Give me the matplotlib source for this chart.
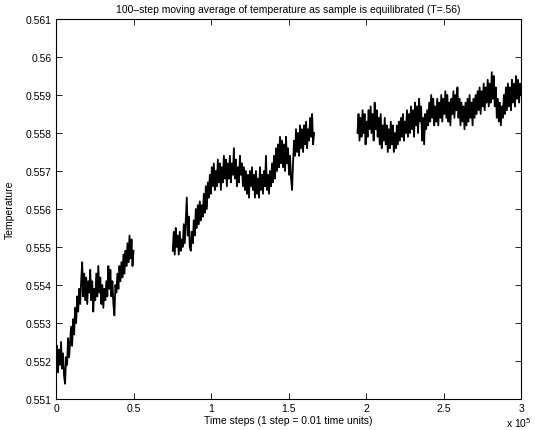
import matplotlib
matplotlib.use("Agg")
import matplotlib.pyplot as plt
import numpy as np

plt.rcParams['font.family'] = ['Liberation Sans', 'DejaVu Sans']

# three recorded runs: (first step, last step)
seg_steps = [(0, 50000), (75300, 166500), (194500, 300000)]

temp_run1 = [
    0.5520, 0.5524, 0.5517, 0.5523, 0.5519, 0.5525, 0.5518, 0.5522, 0.5516, 0.5514,
    0.5521, 0.5519, 0.5526, 0.5521, 0.5525, 0.5529, 0.5524, 0.5531, 0.5527, 0.5534,
    0.5530, 0.5537, 0.5533, 0.5539, 0.5535, 0.5541, 0.5546, 0.5537, 0.5543, 0.5536,
    0.5542, 0.5535, 0.5541, 0.5538, 0.5544, 0.5536, 0.5541, 0.5533, 0.5539, 0.5536,
    0.5543, 0.5537, 0.5545, 0.5538, 0.5542, 0.5535, 0.5540, 0.5534, 0.5539, 0.5536,
    0.5541, 0.5537, 0.5545, 0.5539, 0.5544, 0.5537, 0.5541, 0.5535, 0.5532, 0.5540,
    0.5538, 0.5543, 0.5539, 0.5545, 0.5541, 0.5546, 0.5542, 0.5548, 0.5543, 0.5549,
    0.5545, 0.5551, 0.5546, 0.5553, 0.5547, 0.5552, 0.5545, 0.5549,
]

temp_run2 = [
    0.5549, 0.5554, 0.5548, 0.5555, 0.5550, 0.5553, 0.5548, 0.5554, 0.5549, 0.5552,
    0.5550, 0.5556, 0.5551, 0.5557, 0.5563, 0.5553, 0.5558, 0.5550, 0.5549, 0.5554,
    0.5551, 0.5557, 0.5553, 0.5560, 0.5555, 0.5561, 0.5556, 0.5562, 0.5557, 0.5561,
    0.5558, 0.5564, 0.5559, 0.5566, 0.5560, 0.5567, 0.5563, 0.5569, 0.5564, 0.5571,
    0.5566, 0.5572, 0.5565, 0.5570, 0.5566, 0.5573, 0.5567, 0.5572, 0.5565, 0.5571,
    0.5567, 0.5574, 0.5568, 0.5573, 0.5566, 0.5572, 0.5568, 0.5574, 0.5567, 0.5572,
    0.5569, 0.5576, 0.5568, 0.5573, 0.5566, 0.5571, 0.5567, 0.5574, 0.5569, 0.5572,
    0.5566, 0.5571, 0.5565, 0.5570, 0.5564, 0.5569, 0.5563, 0.5570, 0.5566, 0.5571,
    0.5565, 0.5569, 0.5563, 0.5570, 0.5564, 0.5568, 0.5563, 0.5571, 0.5565, 0.5569,
    0.5564, 0.5570, 0.5566, 0.5574, 0.5565, 0.5569, 0.5564, 0.5570, 0.5566, 0.5572,
    0.5567, 0.5574, 0.5568, 0.5576, 0.5570, 0.5577, 0.5571, 0.5579, 0.5572, 0.5578,
    0.5571, 0.5577, 0.5570, 0.5579, 0.5572, 0.5576, 0.5569, 0.5574, 0.5568, 0.5565,
    0.5572, 0.5578, 0.5574, 0.5581, 0.5575, 0.5580, 0.5574, 0.5582, 0.5576, 0.5581,
    0.5575, 0.5582, 0.5577, 0.5583, 0.5576, 0.5581, 0.5578, 0.5584, 0.5579, 0.5585,
    0.5577, 0.5580,
]

temp_run3 = [
    0.5580, 0.5585, 0.5578, 0.5584, 0.5579, 0.5586, 0.5580, 0.5585, 0.5577, 0.5583,
    0.5579, 0.5586, 0.5581, 0.5587, 0.5580, 0.5585, 0.5578, 0.5588, 0.5581, 0.5586,
    0.5579, 0.5584, 0.5577, 0.5585, 0.5576, 0.5582, 0.5578, 0.5584, 0.5577, 0.5582,
    0.5575, 0.5581, 0.5576, 0.5583, 0.5577, 0.5582, 0.5575, 0.5580, 0.5576, 0.5582,
    0.5577, 0.5583, 0.5578, 0.5584, 0.5579, 0.5585, 0.5578, 0.5583, 0.5580, 0.5586,
    0.5579, 0.5585, 0.5580, 0.5587, 0.5581, 0.5586, 0.5579, 0.5588, 0.5582, 0.5587,
    0.5580, 0.5589, 0.5583, 0.5587, 0.5578, 0.5584, 0.5577, 0.5585, 0.5581, 0.5586,
    0.5582, 0.5588, 0.5583, 0.5590, 0.5584, 0.5589, 0.5582, 0.5587, 0.5583, 0.5589,
    0.5582, 0.5588, 0.5584, 0.5590, 0.5583, 0.5589, 0.5585, 0.5591, 0.5584, 0.5590,
    0.5583, 0.5588, 0.5582, 0.5589, 0.5585, 0.5591, 0.5584, 0.5590, 0.5586, 0.5592,
    0.5584, 0.5589, 0.5582, 0.5588, 0.5583, 0.5587, 0.5581, 0.5588, 0.5582, 0.5589,
    0.5583, 0.5590, 0.5584, 0.5588, 0.5582, 0.5589, 0.5584, 0.5590, 0.5585, 0.5591,
    0.5586, 0.5592, 0.5585, 0.5591, 0.5587, 0.5593, 0.5586, 0.5592, 0.5588, 0.5594,
    0.5587, 0.5593, 0.5588, 0.5596, 0.5589, 0.5595, 0.5587, 0.5592, 0.5584, 0.5589,
    0.5583, 0.5588, 0.5582, 0.5587, 0.5584, 0.5590, 0.5585, 0.5592, 0.5586, 0.5593,
    0.5587, 0.5592, 0.5586, 0.5594, 0.5588, 0.5593, 0.5587, 0.5595, 0.5589, 0.5594,
    0.5588, 0.5593, 0.5590,
]

xtick_vals = [0, 50000, 100000, 150000, 200000, 250000, 300000]
xtick_labels = ["0", "0.5", "1", "1.5", "2", "2.5", "3"]
ytick_vals = [0.551, 0.552, 0.553, 0.554, 0.555, 0.556, 0.557, 0.558, 0.559, 0.560, 0.561]
ytick_labels = ["0.551", "0.552", "0.553", "0.554", "0.555", "0.556",
                "0.557", "0.558", "0.559", "0.56", "0.561"]

fs = 7.5
fig = plt.figure(figsize=(5.35, 4.31), dpi=100)
ax = fig.add_axes([0.1047, 0.0719, 0.8692, 0.8817])

for (s0, s1), temps in zip(seg_steps, [temp_run1, temp_run2, temp_run3]):
    steps = np.linspace(s0, s1, len(temps))
    ax.plot(steps, temps, color="black", linewidth=1.3)

ax.set_xlim(0, 300000)
ax.set_ylim(0.551, 0.561)
ax.set_xticks(xtick_vals)
ax.set_xticklabels(xtick_labels, fontsize=fs)
ax.set_yticks(ytick_vals)
ax.set_yticklabels(ytick_labels, fontsize=fs)
ax.tick_params(direction="in", top=True, right=True, length=4, width=0.6, pad=3)
for sp in ax.spines.values():
    sp.set_linewidth(0.8)

ax.set_title("100\u2013step moving average of temperature as sample is equilibrated (T=.56)",
             fontsize=fs, pad=5)
ax.set_xlabel("Time steps (1 step = 0.01 time units)", fontsize=fs, labelpad=1)
ax.set_ylabel("Temperature", fontsize=fs, labelpad=8)
fig.text(0.946, 0.002, r"x 10$^5$", fontsize=fs, ha="left", va="bottom")

fig.savefig("out.png", dpi=100)
